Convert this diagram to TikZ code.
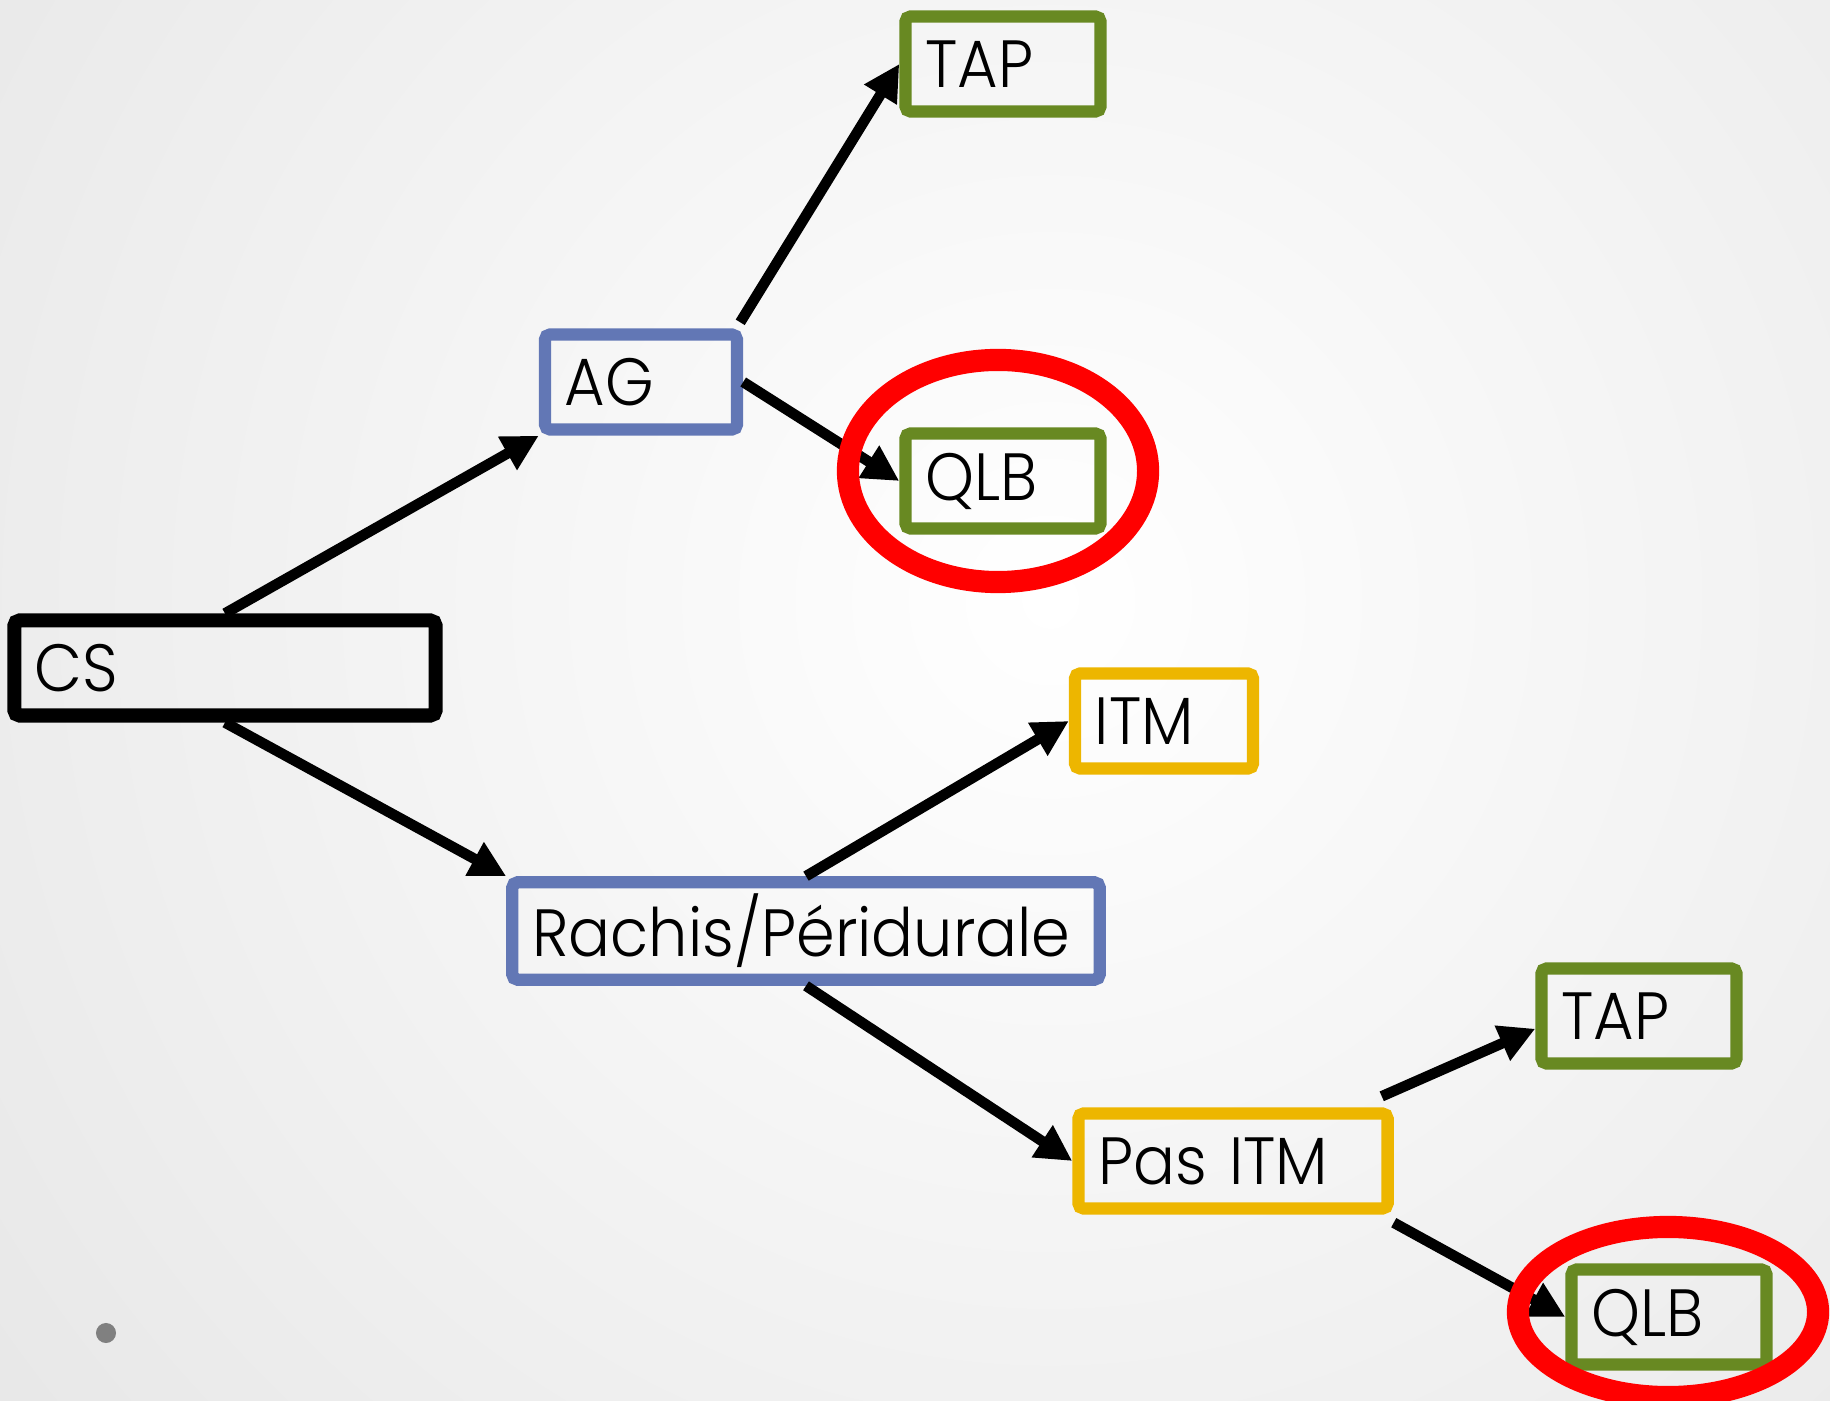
\documentclass[tikz,border=0pt]{standalone}
\usepackage{fontspec}
\IfFontExistsTF{Poppins Light}{\setmainfont{Poppins Light}[FakeStretch=0.93]}{\setmainfont{Poppins}[FakeStretch=0.93]}
\usepackage{tikz}
\usetikzlibrary{arrows.meta, positioning, calc}

\definecolor{bleuAG}{RGB}{98,119,181}
\definecolor{vertQLB}{RGB}{104,137,34}
\definecolor{jauneITM}{RGB}{237,182,0}
\definecolor{rougeQLB}{RGB}{255,0,0}
\definecolor{pointgris}{RGB}{128,128,128}

\tikzset{
    boite/.style={draw=#1, line width=3.5pt, rounded corners=1.5pt, minimum height=0.95cm,
        inner xsep=0.2cm, align=left, font=\fontsize{19}{22}\selectfont},
    fleche/.style={->, line width=3pt},
    entoure/.style={draw=rougeQLB, line width=6.3pt}
}

\begin{document}
\begin{tikzpicture}[>={Triangle[length=3.6mm, width=3.6mm]}, x=0.01cm, y=-0.01cm]
    % fond
    \useasboundingbox (0,0) rectangle (1830,1401);
    \begin{scope}
        \clip (0,0) rectangle (1830,1401);
        \shade [inner color=white, outer color=black!18] (1050,600) circle [radius=26cm];
    \end{scope}

    % Depart
    \node [boite=black, line width=4pt, text width=3.81cm] (cs) at (225,668) {CS};

    % Branche AG
    \node [boite=bleuAG, text width=1.52cm] (ag) at (641,382) {AG};
    \node [boite=vertQLB, text width=1.55cm] (tap1) at (1003,64) {TAP};
    \node [boite=vertQLB, text width=1.55cm] (qlb1) at (1003,481) {QLB};

    % Branche Rachis
    \node [boite=bleuAG, text width=5.47cm] (rachis) at (806,931) {Rachis/Péridurale};
    \node [boite=jauneITM, text width=1.38cm] (itm) at (1164,721) {ITM};
    \node [boite=jauneITM, text width=2.69cm] (pasitm) at (1233,1161) {Pas ITM};
    \node [boite=vertQLB, text width=1.55cm] (tap2) at (1639,1016) {TAP};
    \node [boite=vertQLB, text width=1.55cm] (qlb2) at (1669,1317) {QLB};

    % Connections
    \draw [fleche] (cs.north) -- (ag.south west);
    \draw [fleche] ($(ag.north east)+(-3,-6)$) -- (tap1.west);
    \draw [fleche] (ag.east) -- (qlb1.west);
    \draw [fleche] (cs.south) -- (rachis.north west);
    \draw [fleche] (rachis.north) -- (itm.west);
    \draw [fleche] (rachis.south) -- (pasitm.west);
    \draw [fleche] ($(pasitm.north east)+(-12,-11)$) -- (tap2.187);
    \draw [fleche] ($(pasitm.south east)+(0,8)$) -- (qlb2.west);

    % QLB entoures
    \draw [entoure] (998,471) ellipse [x radius=1.5cm, y radius=1.11cm];
    \draw [entoure] (1668,1312) ellipse [x radius=1.5cm, y radius=0.85cm];

    \fill [pointgris] (106,1333) circle [radius=0.1cm];
\end{tikzpicture}
\end{document}
